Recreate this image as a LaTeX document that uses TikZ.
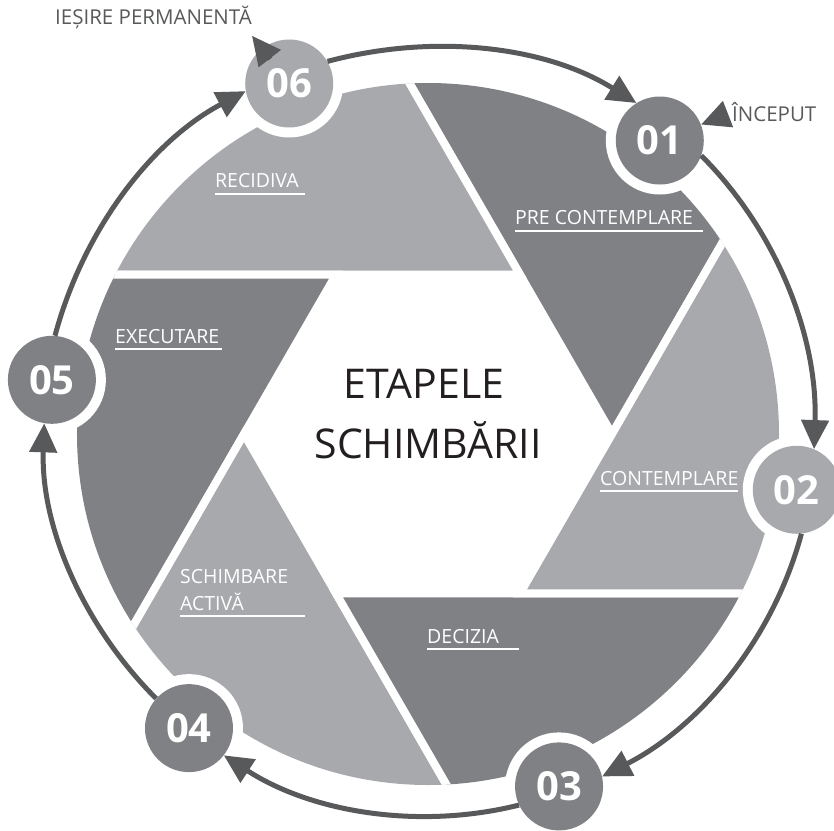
\documentclass[tikz,border=0pt]{standalone}
\usepackage{fontspec}
\setmainfont{Open Sans}
\usetikzlibrary{arrows.meta}
\definecolor{bladedark}{HTML}{808185}
\definecolor{bladelight}{HTML}{A7A9AC}
\definecolor{ringgray}{HTML}{58595B}
\definecolor{titleblack}{HTML}{231F20}
\begin{document}
\begin{tikzpicture}[x=1pt, y=1pt,
        stagenum/.style={circle, minimum size=88pt, inner sep=0pt, text=white, font=\bfseries\fontsize{40}{40}\selectfont},
        stagelabel/.style={anchor=base west, inner sep=0pt, text=white, font=\fontsize{19.5}{23}\selectfont},
        uline/.style={white, line width=1.2pt},
        ring/.style={ringgray, line width=5pt, -{Triangle[length=29pt, width=27pt]}, looseness=0.89},
        tipline/.style={ringgray, line width=5pt, -{Triangle[length=29pt, width=27pt]}},
        sidetext/.style={anchor=base west, inner sep=0pt, text=ringgray, font=\fontsize{20.5}{24}\selectfont},
        titletext/.style={anchor=base, inner sep=0pt, text=titleblack, font=\fontsize{41}{41}\selectfont}]
        \useasboundingbox (-428,-396) rectangle (406,434);

        % shutter blades
        \begin{scope}
            \clip (0,0) circle (351);
            \foreach \a/\c in {0/bladedark, 60/bladelight, 120/bladedark, 180/bladelight, 240/bladedark, 300/bladelight}
                \filldraw[fill=\c, draw=white, line width=8pt] (\a:184) -- +(\a+120:900) -- +(\a+60:900) -- cycle;
        \end{scope}

        \foreach \i/\a/\r/\c in {1/51.7/374/bladedark, 2/-8.6/373/bladelight, 3/-69.6/376/bladedark, 4/-129.1/379/bladedark, 5/171.8/380/bladedark, 6/111.6/377/bladelight}
        {
            \fill[white] (\a:\r) circle (54);
            \node[stagenum, fill=\c] (n\i) at (\a:\r) {0\i};
        }

        \draw[ring] (n6.30) to[out=15, in=148] (n1.122);
        \draw[ring] (n1.-20) to[out=-45, in=88] (n2.67);
        \draw[ring] (n2.-84) to[out=-105, in=27] (n3.13);
        \draw[ring] (n3.-155) to[out=-166, in=-33] (n4.-38);
        \draw[ring] (n4.138) to[out=135, in=268] (n5.260);
        \draw[ring] (n5.86) to[out=75, in=208] (n6.190);

        \node[stagelabel] (pre) at (87,209) {PRE CONTEMPLARE};
        \node[stagelabel] (recidiva) at (-213,246) {RECIDIVA};
        \node[stagelabel] (executare) at (-313,91) {EXECUTARE};
        \node[stagelabel] (contemplare) at (172,-51) {CONTEMPLARE};
        \node[stagelabel] (schimbare) at (-248,-149) {SCHIMBARE};
        \node[stagelabel] (activa) at (-248,-176) {ACTIVĂ};
        \node[stagelabel] (decizia) at (-1,-209) {DECIZIA};
        \foreach \n/\w in {pre/188, recidiva/90, executare/107, contemplare/138, activa/125, decizia/92}
            \draw[uline] ([yshift=-6pt]\n.base west) -- ++(\w,0);

        \node[titletext] (etapele) at (-4,36) {ETAPELE};
        \node[titletext] (schimbarii) at (0,-24) {SCHIMBĂRII};

        \node[sidetext] (iesire) at (-373,409) {IEȘIRE PERMANENTĂ};
        \node[sidetext] (inceput) at (304,312) {ÎNCEPUT};
        \draw[tipline, shorten <=5pt] (inceput.west) -- (n1);
        \draw[tipline, shorten <=31pt] (n6.center) -- ([yshift=-6pt]iesire.south east);
    \end{tikzpicture}
\end{document}
